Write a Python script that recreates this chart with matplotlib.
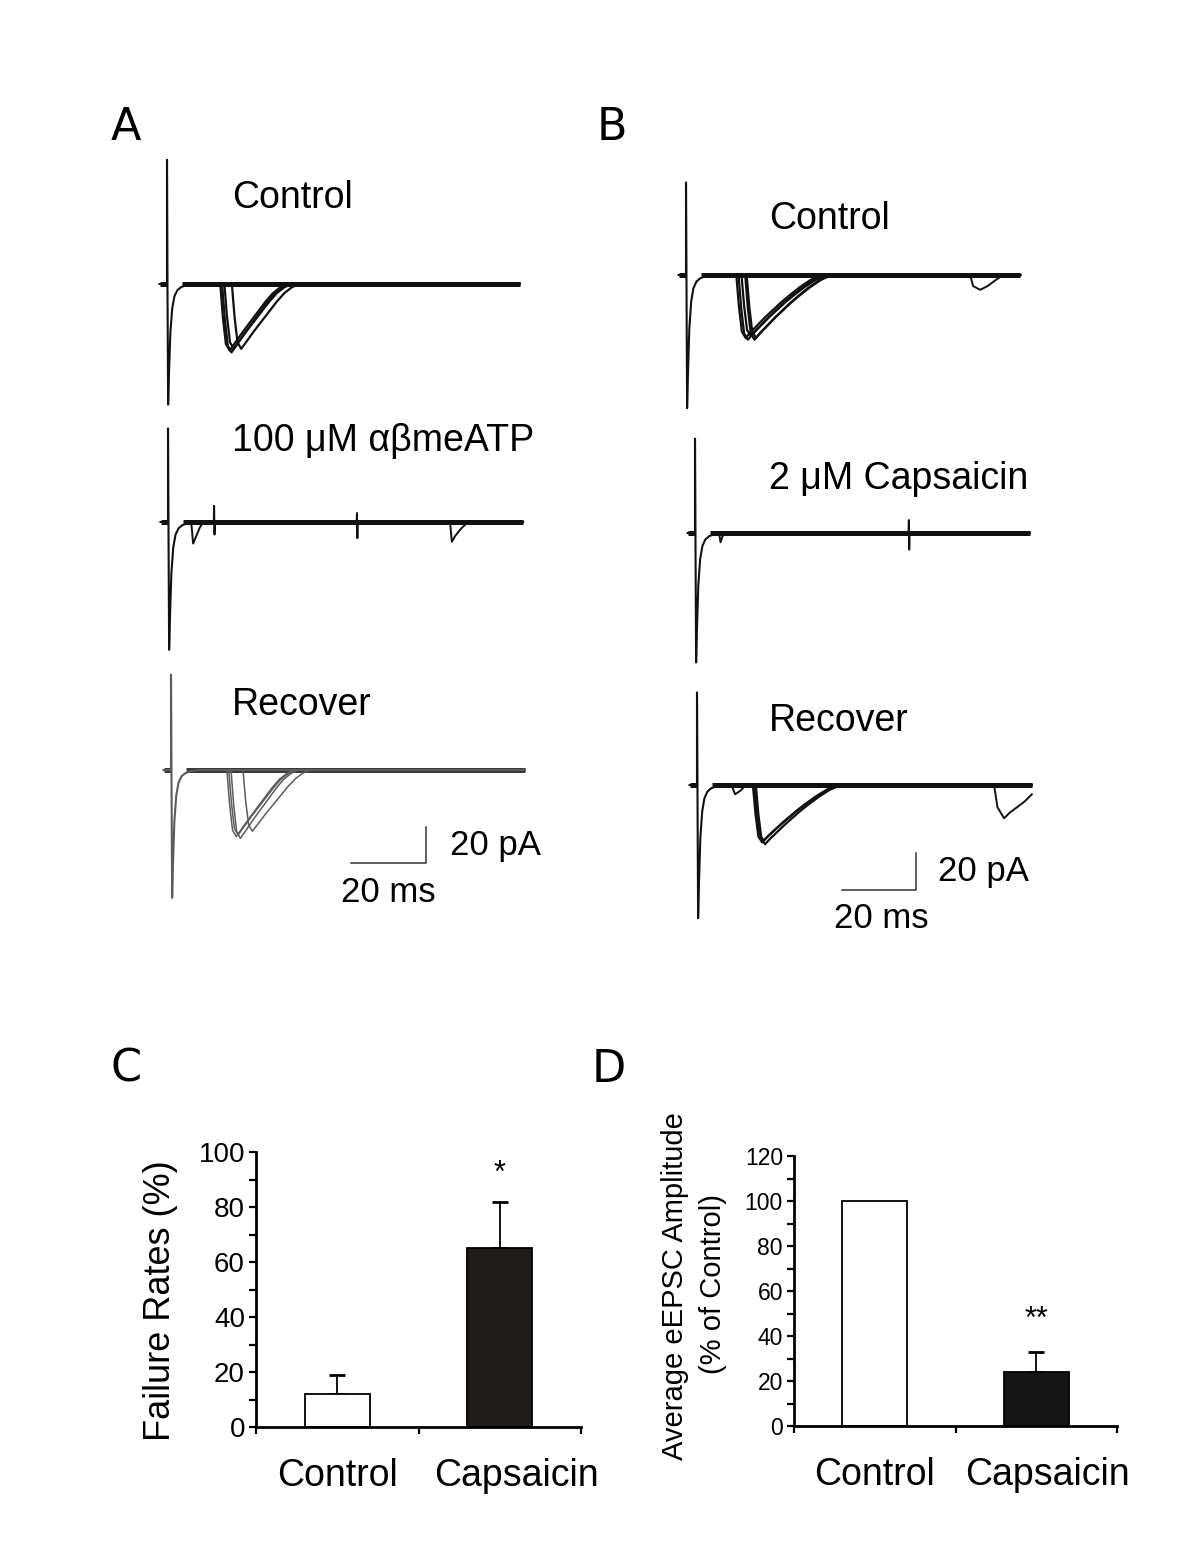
import matplotlib
matplotlib.use('Agg')
import matplotlib.pyplot as plt
from matplotlib.ticker import MultipleLocator, FixedLocator, NullFormatter, FixedFormatter

W, H, DPI = 1200, 1559, 100

# ======================= DATA =======================
# Panel C: failure rates (%)
c_groups = ['Control', 'Capsaicin']
c_means = [12, 65]
c_errs = [7, 17]
c_sig = ['', '*']
# Panel D: average eEPSC amplitude (% of control)
d_groups = ['Control', 'Capsaicin']
d_means = [100, 24]
d_errs = [0, 9]
d_sig = ['', '**']

# Trace panels: time in ms after stimulus, current in pA (baseline = 0)
trace_titles = ['Control', '100 μM αβmeATP', 'Recover',
                'Control', '2 μM Capsaicin', 'Recover']
trace_t_start = [-2, -2, -2, -2, -2, -2]
trace_t_end = [94.0, 94.7, 94.4, 90.3, 90.5, 90.5]
stim_up = [69, 52, 53, 50, 51, 50]
stim_down = [67, 71, 71, 72, 70, 72]

# stimulus artifact shape (ms after stimulus; fraction of up / down peak)
art_t = [0.0, 0.0, 0.12, 0.3, 0.55, 0.9, 1.4, 2.0, 2.8, 3.8, 5.2, 7.0]
art_up = [0, 1, 0, 0, 0, 0, 0, 0, 0, 0, 0, 0]
art_down = [0, 0, 0, 1, 0.72, 0.4, 0.2, 0.1, 0.05, 0.025, 0.01, 0]

# evoked EPSC shapes (ms after onset; fraction of peak)
epscA_t = [0, 0.7, 1.5, 2.5, 4, 6, 8, 10, 12, 14, 16, 18]
epscA_f = [0, 0.5, 0.9, 1.0, 0.88, 0.72, 0.57, 0.42, 0.27, 0.14, 0.05, 0]
epscB_t = [0, 0.7, 1.5, 2.5, 4, 6, 8, 10, 12, 14, 17, 20, 23]
epscB_f = [0, 0.5, 0.9, 1.0, 0.9, 0.78, 0.66, 0.55, 0.44, 0.34, 0.2, 0.08, 0]

# evoked EPSC sweeps: onset (ms) and peak amplitude (pA)
A1_onsets = [14.2, 14.7, 15.3, 17.3]
A1_amps = [37, 38, 36, 36]
A2_onsets = []
A2_amps = []
A3_onsets = [14.9, 15.4, 16.0, 19.2]
A3_amps = [37, 36, 38, 34]
B1_onsets = [13.6, 14.2, 15.0, 16.0, 16.4]
B1_amps = [34, 35, 33, 35, 34]
B2_onsets = []
B2_amps = []
B3_onsets = [15.1, 15.5, 15.9]
B3_amps = [31, 30, 32]

# spontaneous events / artefacts riding on the baseline
A2_ev1_t = [6.2, 6.7, 7.5, 8.5, 9.5]
A2_ev1_v = [0, -12, -8, -3, 0]
A2_ev2_t = [12.2, 12.3, 12.4, 12.5]
A2_ev2_v = [0, 9, -7, 0]
A2_ev3_t = [50.3, 50.4, 50.5, 50.6]
A2_ev3_v = [0, 5, -9, 0]
A2_ev4_t = [75.2, 75.7, 76.5, 78.0, 80.0]
A2_ev4_v = [0, -11, -8, -4, 0]
B1_ev1_t = [76.8, 77.6, 79.5, 81.5, 83.5, 85.7]
B1_ev1_v = [0, -6, -8, -6, -3, 0]
B2_ev1_t = [6.5, 6.9, 7.4, 8.2]
B2_ev1_v = [0, -5, -2, 0]
B2_ev2_t = [57.7, 57.8, 57.9, 58.0]
B2_ev2_v = [0, 7, -9, 0]
B3_ev1_t = [9.3, 10.3, 11.8, 13.2]
B3_ev1_v = [0, -5, -3, 0]
B3_ev2_t = [80.3, 81.2, 83.0, 84.5, 86.5, 88.5, 90.5]
B3_ev2_v = [0, -12, -18, -15, -12, -9, -5]

# ======================= LAYOUT =======================
fig = plt.figure(figsize=(W / DPI, H / DPI), dpi=DPI)
SANS = ['Liberation Sans', 'DejaVu Sans']


def fx(x):
    return x / W


def fy(y):
    return 1 - y / H


# pixel geometry of each trace panel: stimulus x, baseline y, px per ms, px per pA
geo = [(167, 284, 3.75, 1.8), (168, 522, 3.75, 1.8), (171, 770, 3.75, 1.8),
       (686, 275, 3.7, 1.85), (695, 533, 3.7, 1.85), (697, 785, 3.7, 1.85)]
title_pos = [(232, 198), (232, 441), (232, 705), (769, 219), (769, 479), (769, 721)]
onsets_all = [A1_onsets, A2_onsets, A3_onsets, B1_onsets, B2_onsets, B3_onsets]
amps_all = [A1_amps, A2_amps, A3_amps, B1_amps, B2_amps, B3_amps]
shapes = [(epscA_t, epscA_f)] * 3 + [(epscB_t, epscB_f)] * 3
events_all = [[],
              [(A2_ev1_t, A2_ev1_v), (A2_ev2_t, A2_ev2_v), (A2_ev3_t, A2_ev3_v), (A2_ev4_t, A2_ev4_v)],
              [],
              [(B1_ev1_t, B1_ev1_v)],
              [(B2_ev1_t, B2_ev1_v), (B2_ev2_t, B2_ev2_v)],
              [(B3_ev1_t, B3_ev1_v), (B3_ev2_t, B3_ev2_v)]]
colors = ['#111111', '#111111', '#5c5c5c', '#111111', '#111111', '#111111']
band_colors = ['#111111', '#111111', '#3a3a3a', '#111111', '#111111', '#111111']

TMIN, TMAX, IMIN, IMAX = -6, 100, -90, 80
trace_axes = []
for i in range(6):
    sx, by, pms, ppa = geo[i]
    left = sx + TMIN * pms
    right = sx + TMAX * pms
    top = by - IMAX * ppa
    bottom = by - IMIN * ppa
    ax = fig.add_axes([fx(left), fy(bottom), (right - left) / W, (bottom - top) / H])
    ax.set_xlim(TMIN, TMAX)
    ax.set_ylim(IMIN, IMAX)
    ax.axis('off')
    ax.patch.set_alpha(0)
    trace_axes.append(ax)

    t0, t1 = trace_t_start[i], trace_t_end[i]
    col = colors[i]
    # noisy baseline band
    ax.plot([t0, 0], [0, 0], color=band_colors[i], lw=3.6, solid_capstyle='butt')
    ax.plot([4.0, t1], [0, 0], color=band_colors[i], lw=3.6, solid_capstyle='butt')
    # failure sweep (artifact only)
    ts = [t0] + art_t + [t1]
    vs = [0] + [stim_up[i] * u - stim_down[i] * d for u, d in zip(art_up, art_down)] + [0]
    ax.plot(ts, vs, color=col, lw=1.5)
    # evoked EPSC sweeps
    sh_t, sh_f = shapes[i]
    for on, amp in zip(onsets_all[i], amps_all[i]):
        ts = [on] + [on + s for s in sh_t] + [t1]
        vs = [0] + [-amp * f for f in sh_f] + [0]
        ax.plot(ts, vs, color=col, lw=1.6 if i != 2 else 1.1)
    for et, ev in events_all[i]:
        ax.plot(et, ev, color=col, lw=1.4)
    tx, ty = title_pos[i]
    fig.text(fx(tx), fy(ty), trace_titles[i], ha='left', va='center',
             fontsize=27, family=SANS)

# scale bars (20 ms, 20 pA)
sb = [(2, 68.0, -51.7, 74.4, -41.7, 57.9, -68.3),
      (5, 59.2, -56.8, 65.1, -47.0, 49.7, -71.9)]
for idx, xr, yb, tpx, tpy, tmx, tmy in sb:
    ax = trace_axes[idx]
    ax.plot([xr - 20, xr, xr], [yb, yb, yb + 20], color='#333333', lw=1.1)
    ax.text(tpx, tpy, '20 pA', ha='left', va='center', fontsize=25, family=SANS)
    ax.text(tmx, tmy, '20 ms', ha='center', va='center', fontsize=25, family=SANS)

# panel letters
for lab, x, y in [('A', 126, 128), ('B', 612, 128), ('C', 126, 1069), ('D', 609, 1069)]:
    fig.text(fx(x), fy(y), lab, ha='center', va='center', fontsize=32,
             family=['DejaVu Sans'])


# ======================= BAR CHARTS =======================
def bar_panel(rect_px, means, errs, groups, sig, ymax, bar_colors,
              tick_fs, star_off, cat_x):
    l, t, r, b = rect_px
    ax = fig.add_axes([fx(l), fy(b), (r - l) / W, (b - t) / H])
    x = [0.5, 1.5]
    ax.bar(x, means, width=0.4, color=bar_colors, edgecolor='black', linewidth=1.3, zorder=2)
    for xi, m, e, s in zip(x, means, errs, sig):
        if e > 0:
            ax.errorbar([xi], [m], yerr=[[0], [e]], fmt='none', ecolor='black',
                        elinewidth=1.3, capsize=6, capthick=2.0, zorder=1)
        if s:
            ax.text(xi, m + e + star_off, s, ha='center', va='center', fontsize=22,
                    family=SANS)
    ax.set_xlim(0, 2)
    ax.set_ylim(0, ymax)
    for sp in ['top', 'right']:
        ax.spines[sp].set_visible(False)
    for sp in ['left', 'bottom']:
        ax.spines[sp].set_linewidth(2.0)
    ax.yaxis.set_major_locator(MultipleLocator(20))
    ax.yaxis.set_minor_locator(MultipleLocator(10))
    ax.tick_params(axis='y', which='both', direction='out', length=5, width=1.6,
                   labelsize=tick_fs, pad=3)
    for lb in ax.get_yticklabels():
        lb.set_family(SANS)
    ax.xaxis.set_major_locator(FixedLocator([0, 1, 2]))
    ax.xaxis.set_major_formatter(NullFormatter())
    ax.xaxis.set_minor_locator(FixedLocator(cat_x))
    ax.xaxis.set_minor_formatter(FixedFormatter(groups))
    ax.tick_params(axis='x', which='major', direction='out', length=5, width=1.6)
    ax.tick_params(axis='x', which='minor', length=0, pad=22, labelsize=27)
    for lb in ax.get_xticklabels(minor=True):
        lb.set_family(SANS)
    ax.patch.set_alpha(0)
    return ax


bar_panel((256, 1152, 581, 1427), c_means, c_errs, c_groups, c_sig, 100,
          ['white', '#1e1b19'], 20, 10, [0.5, 1.6])
bar_panel((794, 1156, 1117, 1426), d_means, d_errs, d_groups, d_sig, 120,
          ['white', '#151515'], 16.5, 14, [0.5, 1.57])

fig.text(fx(160), fy(1301), 'Failure Rates (%)', rotation=90, ha='center', va='center',
         fontsize=26, family=SANS)
fig.text(fx(675), fy(1286), 'Average eEPSC Amplitude', rotation=90, ha='center',
         va='center', fontsize=21, family=SANS)
fig.text(fx(713), fy(1284), '(% of Control)', rotation=90, ha='center', va='center',
         fontsize=21, family=SANS)

fig.savefig('out.png', dpi=DPI)
